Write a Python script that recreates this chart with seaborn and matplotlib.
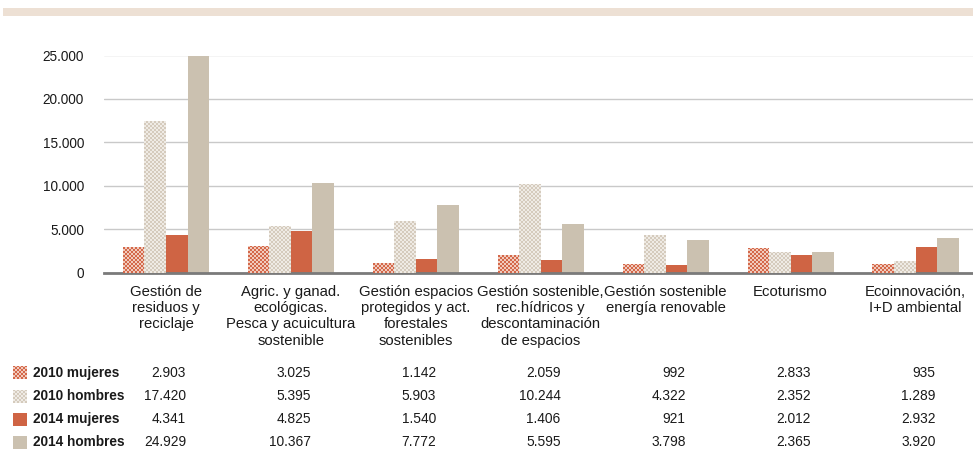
import numpy as np
import pandas as pd
import matplotlib
matplotlib.use("Agg")
import matplotlib.pyplot as plt
from matplotlib import font_manager
from matplotlib.patches import Rectangle
import seaborn as sns

# Chart data
categorias = [
    "Gestión de\nresiduos y\nreciclaje",
    "Agric. y ganad.\necológicas.\nPesca y acuicultura\nsostenible",
    "Gestión espacios\nprotegidos y act.\nforestales\nsostenibles",
    "Gestión sostenible,\nrec.hídricos y\ndescontaminación\nde espacios",
    "Gestión sostenible\nenergía renovable",
    "Ecoturismo",
    "Ecoinnovación,\nI+D ambiental",
]
series = ["2010 mujeres", "2010 hombres", "2014 mujeres", "2014 hombres"]
mujeres_2010 = [2903, 3025, 1142, 2059, 992, 2833, 935]
hombres_2010 = [17420, 5395, 5903, 10244, 4322, 2352, 1289]
mujeres_2014 = [4341, 4825, 1540, 1406, 921, 2012, 2932]
hombres_2014 = [24929, 10367, 7772, 5595, 3798, 2365, 3920]
yticks = [0, 5000, 10000, 15000, 20000, 25000]
ytick_labels = ["0", "5.000", "10.000", "15.000", "20.000", "25.000"]

colores = ["#D4684A", "#DCD3C6", "#CF6444", "#CBC1B0"]
# checker pattern (dark, light) for the 2010 series
cuadros = {0: ("#D4684A", "#F1CBBD"), 1: ("#D5CBBD", "#EFEBE5")}

valores = [mujeres_2010, hombres_2010, mujeres_2014, hombres_2014]
df = pd.DataFrame({
    "cat": np.tile(np.arange(len(categorias)), len(series)),
    "serie": np.repeat(series, len(categorias)),
    "valor": np.concatenate(valores),
})

sns.set_theme(style="white")
nombres = {f.name for f in font_manager.fontManager.ttflist}
if "Liberation Sans Narrow" in nombres:
    estrecha, tam_tabla, tam_neg, tam_y = "Liberation Sans Narrow", 12, 11.5, 11.5
else:
    estrecha, tam_tabla, tam_neg, tam_y = "Liberation Sans", 9.9, 9.8, 9.8
plt.rcParams["font.family"] = ["Liberation Sans", "DejaVu Sans"]

W, H = 973, 451
fig = plt.figure(figsize=(W / 100, H / 100), dpi=100)
ax = fig.add_axes([103.5 / W, 1 - 272.5 / H, (W - 103.5) / W, 217 / H])

sns.barplot(data=df, x="cat", y="valor", hue="serie", order=range(len(categorias)),
            hue_order=series, palette=colores, width=0.69, saturation=1,
            legend=False, ax=ax, linewidth=0)

ax.set_xlim(-0.5, 6.46)
ax.set_ylim(0, 25000)
ax.set_yticks(yticks)
ax.set_yticklabels(ytick_labels, fontsize=tam_y, color="#1a1a1a", family=estrecha)
ax.yaxis.grid(True, color="#C9C9C9", linewidth=1)
ax.set_axisbelow(True)
ax.tick_params(axis="y", length=0, pad=14)
ax.tick_params(axis="x", length=0, pad=9)
ax.set_xticks(range(len(categorias)))
ax.set_xticklabels(categorias, fontsize=10.75, color="#1a1a1a", linespacing=1.2,
                   verticalalignment="top", multialignment="center")
ax.set_xlabel("")
ax.set_ylabel("")
for s in ["top", "right", "left"]:
    ax.spines[s].set_visible(False)
ax.spines["bottom"].set_color("#7a7a7a")
ax.spines["bottom"].set_linewidth(2)
ax.spines["bottom"].set_zorder(5)


def checker(w, h, c1, c2, paso=2):
    a = np.array(matplotlib.colors.to_rgb(c1))
    b = np.array(matplotlib.colors.to_rgb(c2))
    jj, ii = np.meshgrid(np.arange(w), np.arange(h))
    m = ((ii // paso + jj // paso) % 2 == 1)[..., None]
    return np.where(m, b, a)


# checker texture on top of the 2010 bars
for k, (c1, c2) in cuadros.items():
    for bar in ax.containers[k]:
        (x0, y0), (x1, y1) = ax.transData.transform(
            [(bar.get_x(), 0), (bar.get_x() + bar.get_width(), bar.get_height())])
        xo, yo = int(round(x0)), int(round(y0))
        w, h = int(round(x1)) - xo, int(round(y1)) - yo
        if w > 0 and h > 0:
            fig.figimage(checker(w, h, c1, c2), xo=xo, yo=yo, origin="lower", zorder=3)

# top decorative band
fig.patches.append(Rectangle((3 / W, 1 - 16 / H), (W - 3) / W, 8 / H,
                             transform=fig.transFigure, facecolor="#EDE0D4",
                             edgecolor="none"))

# data table under the chart
filas_y = [373, 396, 419, 442]
trans = matplotlib.transforms.blended_transform_factory(ax.transData, fig.transFigure)
for k, (serie, vals, color, py) in enumerate(zip(series, valores, colores, filas_y)):
    yf = 1 - py / H
    if k in cuadros:
        fig.figimage(checker(14, 13, *cuadros[k]), xo=13, yo=int(round(H - py - 6.5)),
                     origin="lower", zorder=3)
    else:
        fig.patches.append(Rectangle((13 / W, yf - 6.5 / H), 14 / W, 13 / H,
                                     transform=fig.transFigure, facecolor=color,
                                     edgecolor="none"))
    fig.text(33 / W, yf, serie, fontsize=tam_neg, fontweight="bold", va="center",
             ha="left", color="#1a1a1a", family=estrecha)
    for i, v in enumerate(vals):
        ax.text(i + 0.16, yf, f"{v:,}".replace(",", "."), transform=trans,
                fontsize=tam_tabla, va="center", ha="right", color="#1a1a1a",
                family=estrecha)

fig.savefig("out.png", dpi=100)
